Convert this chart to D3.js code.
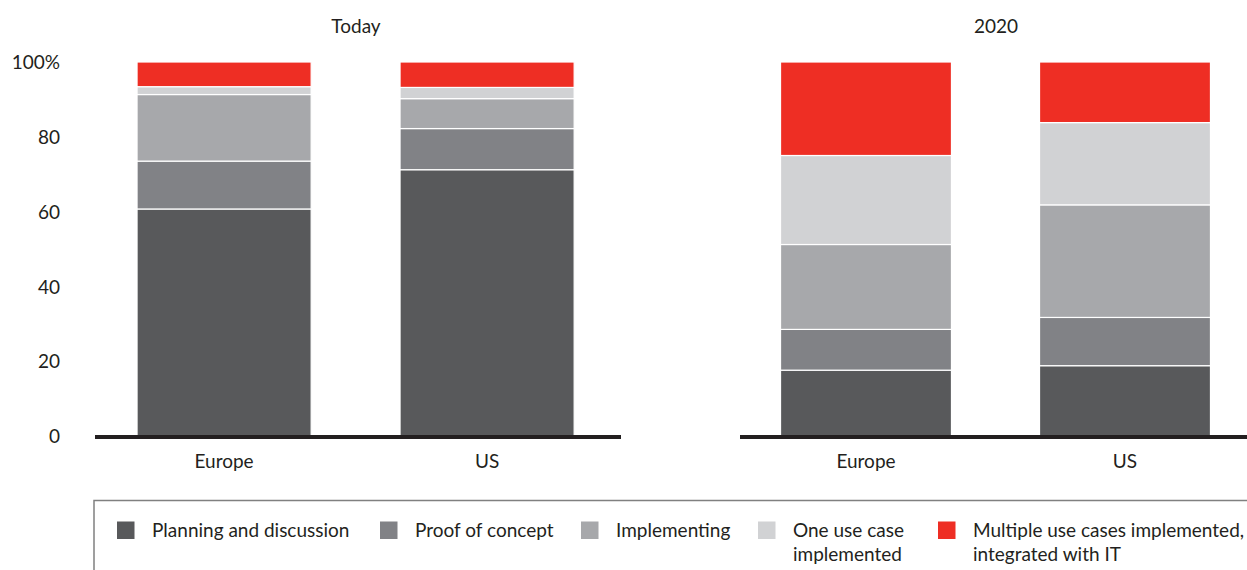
<!DOCTYPE html>
<html><head><meta charset="utf-8">
<script src="https://cdn.jsdelivr.net/npm/d3@7"></script>
<style>body{margin:0;background:#fff}svg{display:block}text{font-family:Lato,"Open Sans",sans-serif;fill:#231f20}</style>
</head><body><svg id="c" width="1247" height="570"></svg>
<script>
const panels = ["Today", "2020"];
const regions = ["Europe", "US"];
const seriesNames = ["Planning and discussion", "Proof of concept", "Implementing", "One use case implemented", "Multiple use cases implemented, integrated with IT"];
const legendLines = [["Planning and discussion"], ["Proof of concept"], ["Implementing"], ["One use case", "implemented"], ["Multiple use cases implemented,", "integrated with IT"]];
const colors = ["#58595b", "#818286", "#a7a8ab", "#d1d2d4", "#ee2e24"];
// values per panel, per region, per series (%)
const todayEurope = [60.7, 12.8, 17.8, 2.1, 6.6];
const todayUS = [71.2, 11.0, 8.0, 3.0, 6.8];
const y2020Europe = [17.6, 10.9, 22.7, 23.8, 25.0];
const y2020US = [18.8, 12.9, 30.1, 22.0, 16.2];
const yTicks = [0, 20, 40, 60, 80, 100];

const FS = 19;
const data = {Today: {Europe: todayEurope, US: todayUS}, "2020": {Europe: y2020Europe, US: y2020US}};
const svg = d3.select("#c");
const y = d3.scaleLinear().domain([0, 100]).range([436, 62]);

const layout = {
  Today: {axis: [95, 621], band: [92.6, 618.6], pad: 0.338, titleX: 356},
  "2020": {axis: [740, 1247], band: [736.5, 1254.5], pad: 0.34, titleX: 996}
};

panels.forEach(p => {
  const L = layout[p];
  const x = d3.scaleBand().domain(regions).range(L.band).paddingInner(L.pad).paddingOuter(L.pad / 2);
  const g = svg.append("g");
  regions.forEach(r => {
    const vals = data[p][r];
    const stack = [];
    let acc = 0;
    vals.forEach((v, i) => { stack.push({i, y0: acc, y1: acc + v}); acc += v; });
    g.selectAll(null).data(stack).enter().append("rect")
      .attr("x", x(r)).attr("width", x.bandwidth())
      .attr("y", d => y(d.y1)).attr("height", d => y(d.y0) - y(d.y1))
      .attr("fill", d => colors[d.i]).attr("stroke", "#fff").attr("stroke-width", 1.2);
    g.append("text").attr("x", x(r) + x.bandwidth() / 2).attr("y", 468)
      .attr("text-anchor", "middle").attr("font-size", FS).text(r);
  });
  g.append("line").attr("x1", L.axis[0]).attr("x2", L.axis[1]).attr("y1", y(0) + 1).attr("y2", y(0) + 1)
    .attr("stroke", "#231f20").attr("stroke-width", 4);
  g.append("text").attr("x", L.titleX).attr("y", 33).attr("text-anchor", "middle").attr("font-size", FS).text(p);
});

// y axis labels
const ya = svg.append("g").attr("transform", "translate(60,0)")
  .call(d3.axisLeft(y).tickValues(yTicks).tickSize(0).tickPadding(0).tickFormat(d => d === 100 ? "100%" : d));
ya.select(".domain").remove();
ya.selectAll("text").attr("font-size", FS).attr("font-family", "Lato,'Open Sans',sans-serif").attr("fill", "#231f20").attr("dy", "0.35em");

// legend
const lg = svg.append("g");
lg.append("path").attr("d", "M94,570 L94,500.5 L1247,500.5").attr("fill", "none").attr("stroke", "#808080").attr("stroke-width", 1.5);
const legX = [117, 380, 581, 758, 938];
seriesNames.forEach((s, i) => {
  lg.append("rect").attr("x", legX[i]).attr("y", 521.5).attr("width", 17.5).attr("height", 17.5).attr("fill", colors[i]);
  const t = lg.append("text").attr("x", legX[i] + 35).attr("y", 537).attr("font-size", FS);
  legendLines[i].forEach((ln, k) => t.append("tspan").attr("x", legX[i] + 35).attr("dy", k === 0 ? 0 : 24).text(ln));
});
</script></body></html>
